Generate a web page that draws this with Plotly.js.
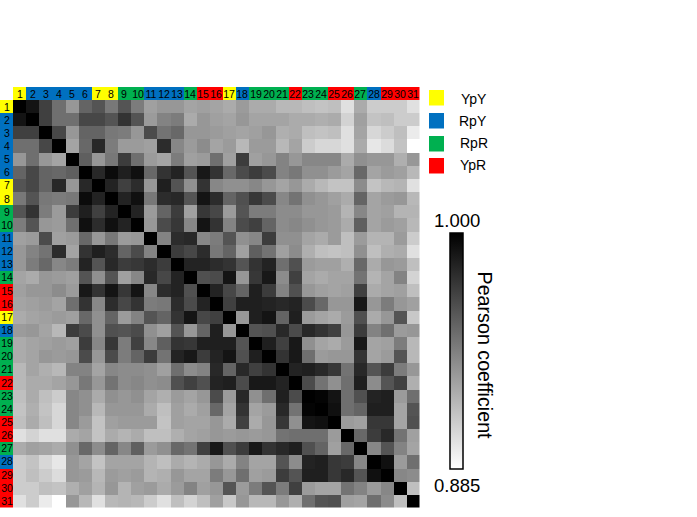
<!DOCTYPE html>
<html><head><meta charset="utf-8">
<script src="https://cdn.plot.ly/plotly-3.0.1.min.js"></script>
<style>html,body{margin:0;padding:0;background:#fff}#c{width:697px;height:517px}</style>
</head><body><div id="c"></div>
<script>
// Pearson coefficient x 1000, upper triangle, each row starts on the diagonal
const row01=[1000,991,971,950,932,955,962,946,962,944,928,932,932,926,928,926,923,930,923,923,917,917,914,912,914,899,923,908,908,908,899];
const row02=[1000,971,950,950,968,968,962,977,962,930,941,944,923,932,928,926,932,926,926,926,923,923,921,923,905,928,912,914,908,908];
const row03=[1000,968,932,955,955,946,944,932,966,948,953,932,932,930,928,926,928,932,921,923,914,912,914,899,926,903,908,914,894];
const row04=[1000,926,953,982,944,930,930,928,980,939,930,937,926,930,917,930,930,917,926,908,903,903,899,923,896,901,912,885];
const row05=[1000,957,932,946,973,950,930,926,944,928,930,950,928,973,928,932,941,932,939,939,939,923,935,932,932,921,932];
const row06=[1000,982,995,986,993,953,977,984,962,989,977,953,966,973,966,941,946,935,935,930,926,953,926,930,928,917];
const row07=[1000,984,971,980,932,986,962,935,977,939,935,935,939,932,926,932,923,917,912,912,937,912,917,919,899];
const row08=[1000,984,993,946,980,982,962,991,980,955,964,975,966,939,948,935,932,928,923,955,926,930,932,917];
const row09=[1000,984,930,955,973,928,975,968,930,962,944,944,937,937,932,932,930,919,939,926,928,919,919];
const row10=[1000,932,966,975,939,991,977,941,966,971,955,937,939,935,932,930,923,957,926,930,928,917];
const row11=[1000,941,980,982,939,944,962,935,939,973,935,935,926,923,930,914,930,919,919,930,908];
const row12=[1000,973,968,980,946,955,928,957,948,928,937,921,914,912,914,935,914,921,923,899];
const row13=[1000,984,984,980,977,962,977,984,950,964,930,928,928,921,953,923,932,930,914];
const row14=[1000,964,966,991,932,975,989,937,971,926,923,926,926,948,919,926,941,905];
const row15=[1000,984,968,955,986,973,941,964,932,928,926,928,971,923,926,928,914];
const row16=[1000,971,986,986,984,982,984,966,953,932,932,989,932,944,932,928];
const row17=[1000,932,986,991,955,986,930,926,923,930,964,923,932,962,910];
const row18=[1000,962,964,982,966,982,977,971,932,973,941,950,930,932];
const row19=[1000,986,971,989,935,926,923,930,989,926,928,944,917];
const row20=[1000,977,989,950,930,932,932,977,926,930,962,917];
const row21=[1000,984,986,982,975,948,982,962,973,944,932];
const row22=[1000,966,948,935,950,986,937,962,971,921];
const row23=[1000,998,991,950,964,984,986,930,950];
const row24=[1000,993,950,955,986,986,926,962];
const row25=[1000,930,928,975,975,926,964];
const row26=[1000,953,973,982,948,928];
const row27=[1000,939,962,941,926];
const row28=[1000,993,930,950];
const row29=[1000,939,937];
const row30=[1000,914];
const row31=[1000];
const upper=[row01,row02,row03,row04,row05,row06,row07,row08,row09,row10,row11,row12,row13,row14,row15,row16,row17,row18,row19,row20,row21,row22,row23,row24,row25,row26,row27,row28,row29,row30,row31];

// 0 YpY, 1 RpY, 2 RpR, 3 YpR
const cellType=[0,1,1,1,1,1,0,0,2,2,1,1,1,2,3,3,0,1,2,2,2,3,2,2,3,3,2,1,3,3,3];
const typeNames=['YpY','RpY','RpR','YpR'];
const typeColors=['#FFFF00','#0070C0','#00B050','#FF0000'];
const cellLabels=cellType.map((_,i)=>String(i+1));
const rMin=0.885, rMax=1.000;
const barTitle='Pearson coefficient';

const n=upper.length;
const z=[];
for(let i=0;i<n;i++){z.push(new Array(n));}
upper.forEach((row,i)=>row.forEach((v,k)=>{z[i][i+k]=v/1000;z[i+k][i]=v/1000;}));
const idx=cellType.map((_,i)=>i);

const W=697,H=517;
const px=v=>v/W, py=v=>1-v/H;
const L=13,R=419.5,T=100,B=507.5,TS=87;

const stripScale=[[0,typeColors[0]],[0.25,typeColors[0]],[0.25,typeColors[1]],[0.5,typeColors[1]],[0.5,typeColors[2]],[0.75,typeColors[2]],[0.75,typeColors[3]],[1,typeColors[3]]];
const font='Arial, "Liberation Sans", sans-serif';

const traces=[
 {type:'heatmap',z:z,x:idx,y:idx,xaxis:'x',yaxis:'y',zmin:rMin,zmax:rMax,xgap:0,ygap:0,
  colorscale:[[0,'#ffffff'],[1,'#000000']],hoverinfo:'skip',
  colorbar:{x:450/W,xanchor:'left',xpad:0,y:py(233),yanchor:'top',ypad:0,len:236,lenmode:'pixels',thickness:13,thicknessmode:'pixels',
   outlinewidth:1.5,outlinecolor:'#000',borderwidth:0,ticks:'',showticklabels:false}},
 {type:'heatmap',z:[cellType],x:idx,y:[0],xaxis:'x',yaxis:'y2',zmin:0,zmax:3,colorscale:stripScale,showscale:false,hoverinfo:'skip',
  text:[cellLabels],texttemplate:'%{text}',textfont:{family:font,size:10.5,color:'#000'}},
 {type:'heatmap',z:cellType.map(v=>[v]),x:[0],y:idx,xaxis:'x2',yaxis:'y',zmin:0,zmax:3,colorscale:stripScale,showscale:false,hoverinfo:'skip',
  text:cellLabels.map(v=>[v]),texttemplate:'%{text}',textfont:{family:font,size:10.5,color:'#000'}}
];

const hidden={showgrid:false,zeroline:false,showticklabels:false,ticks:'',showline:false};
const legendTops=[90,113,136,158];
const legendLabelX=[474,473,474,473];
const legendLabelY=[99,121,143,165];
const layout={
 width:W,height:H,margin:{l:0,r:0,t:0,b:0},paper_bgcolor:'#fff',plot_bgcolor:'#fff',showlegend:false,
 xaxis:Object.assign({domain:[px(L),px(R)],range:[-0.5,n-0.5]},hidden),
 yaxis:Object.assign({domain:[py(B),py(T)],range:[n-0.5,-0.5]},hidden),
 xaxis2:Object.assign({domain:[0,px(L)],range:[-0.5,0.5]},hidden),
 yaxis2:Object.assign({domain:[py(T),py(TS)],range:[-0.5,0.5]},hidden),
 shapes:typeColors.map((c,i)=>({type:'rect',xref:'paper',yref:'paper',x0:px(429),x1:px(444),y0:py(legendTops[i]),y1:py(legendTops[i]+15.5),fillcolor:c,line:{width:0}})),
 annotations:typeNames.map((t,i)=>({xref:'paper',yref:'paper',x:px(legendLabelX[i]),y:py(legendLabelY[i]),text:t,showarrow:false,xanchor:'center',yanchor:'middle',font:{family:font,size:14,color:'#000'}})).concat([
  {xref:'paper',yref:'paper',x:px(457),y:py(220.5),text:rMax.toFixed(3),showarrow:false,xanchor:'center',yanchor:'middle',font:{family:font,size:18.5,color:'#000'}},
  {xref:'paper',yref:'paper',x:px(457),y:py(485),text:rMin.toFixed(3),showarrow:false,xanchor:'center',yanchor:'middle',font:{family:font,size:18.5,color:'#000'}},
  {xref:'paper',yref:'paper',x:px(485),y:py(355.5),text:barTitle,textangle:90,showarrow:false,xanchor:'center',yanchor:'middle',font:{family:font,size:19.7,color:'#000'}}
 ])
};
Plotly.newPlot('c',traces,layout,{displayModeBar:false,staticPlot:true});
</script></body></html>
